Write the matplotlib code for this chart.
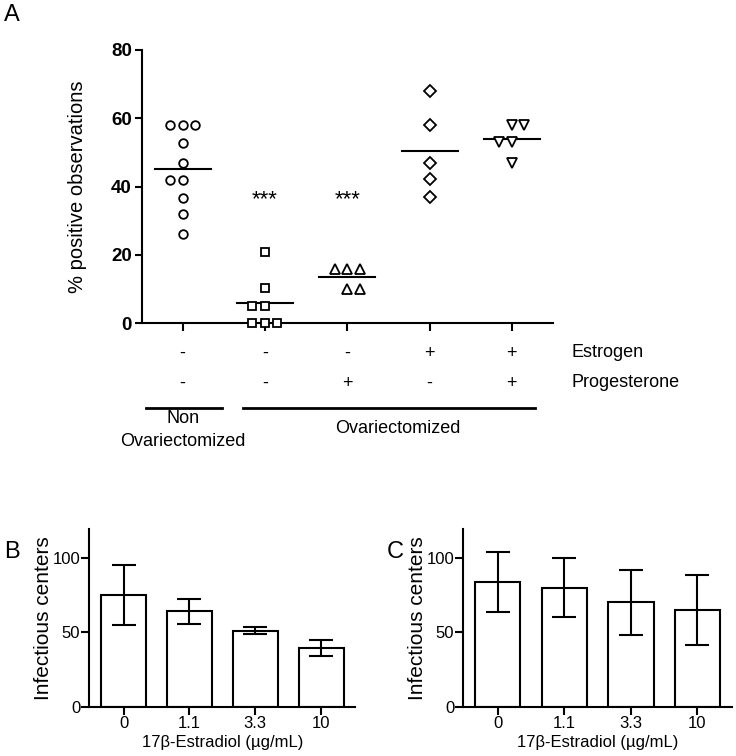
import matplotlib
matplotlib.use("Agg")
import matplotlib.pyplot as plt
import matplotlib.transforms as mtransforms
import numpy as np

plt.rcParams['font.family'] = ['Liberation Sans', 'DejaVu Sans']

# ---------------- Panel A data ----------------
group_markers = ['o', 's', '^', 'D', 'v']
# observed values per group and horizontal slot (-1, 0, +1) of each point
vals_nonovx = [58, 58, 58, 52.8, 47, 42, 42, 36.8, 32, 26]
slot_nonovx = [-1, 0, 1, 0, 0, -1, 0, 0, 0, 0]
vals_ovx = [21, 10.4, 5.1, 5.1, 0, 0, 0]
slot_ovx = [0, 0, -1, 0, -1, 0, 1]
vals_prog = [15.8, 15.8, 15.8, 10.1, 10.1]
slot_prog = [-1, 0, 1, 0, 1]
vals_estr = [67.9, 58, 47, 42.1, 37]
slot_estr = [0, 0, 0, 0, 0]
vals_both = [58, 58, 53.1, 53.1, 47]
slot_both = [0, 1, -1, 0, 0]
group_vals = [vals_nonovx, vals_ovx, vals_prog, vals_estr, vals_both]
group_slots = [slot_nonovx, slot_ovx, slot_prog, slot_estr, slot_both]
signif = ['', '***', '***', '', '']
estrogen_row = ['-', '-', '-', '+', '+']
progesterone_row = ['-', '-', '+', '-', '+']
a_yticks = [0, 20, 40, 60, 80]

# ---------------- Panels B / C data ----------------
conc_labels = ['0', '1.1', '3.3', '10']
b_means = [75.3, 64.3, 51.2, 39.8]
b_err = [20.5, 8.4, 2.2, 5.4]
c_means = [83.8, 80.2, 70.3, 65.2]
c_err = [20.2, 19.7, 22.0, 23.5]
bc_yticks = [0, 50, 100]

W, H = 736, 756
fig = plt.figure(figsize=(W / 100, H / 100), dpi=100)

def fr(x0, y0, x1, y1):
    # pixel box (top-left origin) -> figure fraction rect
    return [x0 / W, 1 - y1 / H, (x1 - x0) / W, (y1 - y0) / H]

LW = 1.5

# ---------------- Panel A ----------------
axA = fig.add_axes(fr(141.5, 50, 553, 323.3))
jit = 0.152
marker_sizes = {'o': 6.2, 's': 6.3, '^': 7.2, 'v': 7.2, 'D': 6.4}
for i, (vals, slots, m) in enumerate(zip(group_vals, group_slots, group_markers)):
    xs = i + jit * np.array(slots)
    axA.plot(xs, vals, linestyle='none', marker=m, markersize=marker_sizes[m],
             markerfacecolor='white', markeredgecolor='black',
             markeredgewidth=1.3, clip_on=False, zorder=3)
    mean = np.mean(vals)
    axA.plot([i - 0.34, i + 0.34], [mean, mean], color='black', lw=LW, zorder=2)
    if signif[i]:
        axA.text(i, 36.2, signif[i], ha='center', va='center', fontsize=16)

axA.set_xlim(-0.5, 4.5)
axA.set_ylim(0, 80)
axA.set_xticks(range(5))
axA.set_xticklabels([])
axA.set_yticks(a_yticks)
axA.set_yticklabels([str(t) for t in a_yticks], fontweight='bold', fontsize=13.5)
axA.tick_params(axis='both', direction='out', length=6, width=LW, pad=2)
axA.tick_params(axis='y', length=5)
axA.spines['top'].set_visible(False)
axA.spines['right'].set_visible(False)
for s in ('left', 'bottom'):
    axA.spines[s].set_linewidth(LW)
axA.set_ylabel('% positive observations', fontsize=14.5, labelpad=17)

trans = mtransforms.blended_transform_factory(axA.transData, fig.transFigure)
y_row1 = 1 - 353.5 / H
y_row2 = 1 - 383.5 / H
for i in range(5):
    axA.text(i, y_row1, estrogen_row[i], transform=trans, ha='center', va='center',
             fontsize=13, clip_on=False)
    axA.text(i, y_row2, progesterone_row[i], transform=trans, ha='center', va='center',
             fontsize=13, clip_on=False)
axA.text(4.72, 1 - 352.5 / H, 'Estrogen', transform=trans, ha='left', va='center', fontsize=13)
axA.text(4.72, 1 - 382 / H, 'Progesterone', transform=trans, ha='left', va='center', fontsize=13)
y_line = 1 - 407.5 / H
axA.plot([-0.446, 0.474], [y_line, y_line], transform=trans, color='black', lw=2, clip_on=False)
axA.plot([0.736, 4.28], [y_line, y_line], transform=trans, color='black', lw=2, clip_on=False)
axA.text(0, 1 - 419 / H, 'Non', transform=trans, ha='center', va='center', fontsize=13)
axA.text(0, 1 - 441.5 / H, 'Ovariectomized', transform=trans, ha='center', va='center', fontsize=13)
axA.text(2.62, 1 - 428.5 / H, 'Ovariectomized', transform=trans, ha='center', va='center', fontsize=13)

# ---------------- Panels B and C ----------------
def bar_panel(rect, means, errs):
    ax = fig.add_axes(rect)
    x = np.arange(len(means))
    ax.bar(x, means, width=0.68, color='white', edgecolor='black', linewidth=LW, zorder=2)
    ax.errorbar(x, means, yerr=errs, fmt='none', ecolor='black', elinewidth=LW,
                capsize=8.7, capthick=LW, zorder=3)
    ax.set_xlim(-0.52, 3.52)
    ax.set_ylim(0, 120)
    ax.set_xticks(x)
    ax.set_xticklabels(conc_labels, fontsize=12)
    ax.set_yticks(bc_yticks)
    ax.set_yticklabels([str(t) for t in bc_yticks], fontsize=12)
    ax.tick_params(axis='both', direction='out', length=5.5, width=LW, pad=1)
    ax.spines['top'].set_visible(False)
    ax.spines['right'].set_visible(False)
    for s in ('left', 'bottom'):
        ax.spines[s].set_linewidth(LW)
    ax.set_ylabel('Infectious centers', fontsize=15, labelpad=0)
    ax.set_xlabel('17\u03b2-Estradiol (\u00b5g/mL)', fontsize=12, labelpad=3)
    return ax

axB = bar_panel(fr(89.3, 528.6, 355.4, 706.7), b_means, b_err)
axC = bar_panel(fr(463.3, 528.6, 732, 706.7), c_means, c_err)

fig.text(4 / W, 1 - 4 / H, 'A', fontsize=17, ha='left', va='top')
fig.text(4 / W, 1 - 541 / H, 'B', fontsize=17, ha='left', va='top')
fig.text(387 / W, 1 - 541 / H, 'C', fontsize=17, ha='left', va='top')

fig.savefig('out.png', dpi=100)
